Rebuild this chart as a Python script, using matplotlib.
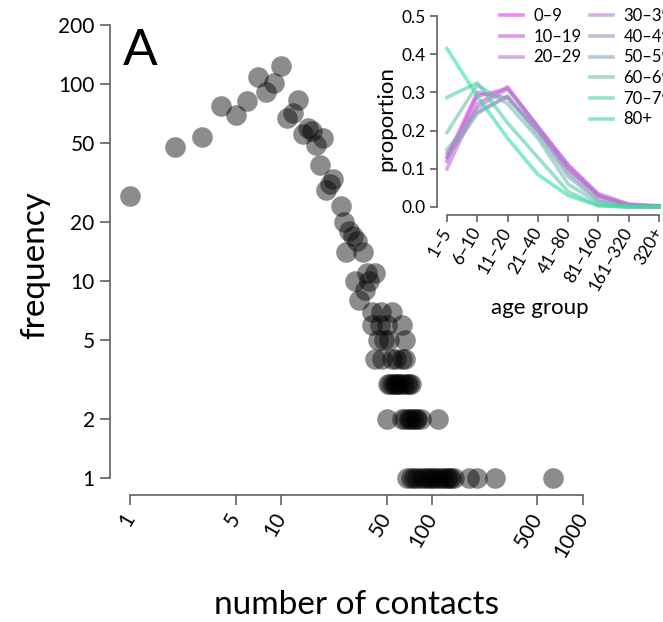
import matplotlib.pyplot as plt
from matplotlib.ticker import NullLocator

plt.rcParams['font.family'] = ['Lato', 'DejaVu Sans']

# main panel: number of contacts vs. how many people reported it
contacts = [1, 2, 3, 4, 5, 6, 7, 8, 9, 10,
            11, 12, 13, 14, 15, 16, 17, 18, 19,
            20, 21, 22, 25, 26, 28, 30, 32,
            27, 35, 42, 31, 37, 38, 33, 36,
            40, 46, 54,
            40, 45, 50, 63,
            44, 48, 52, 66,
            42, 47, 54, 58, 63, 66,
            51, 53, 55, 57, 59, 60, 62, 65, 68, 70, 73,
            50, 63, 66, 70, 72, 75, 78, 80, 85, 110,
            68, 73, 76, 80, 85, 88, 92, 97, 100, 105, 110, 115, 120, 125,
            130, 134, 140, 175, 200, 260, 630]
frequency = [27, 48, 54, 77, 70, 82, 108, 91, 101, 124,
             67, 71, 83, 56, 60, 58, 49, 39, 53,
             29, 31, 33, 24, 20, 18, 17, 16,
             14, 14, 11, 10, 11, 10, 8, 9,
             7, 7, 7,
             6, 6, 6, 6,
             5, 5, 5, 5,
             4, 4, 4, 4, 4, 4,
             3, 3, 3, 3, 3, 3, 3, 3, 3, 3, 3,
             2, 2, 2, 2, 2, 2, 2, 2, 2, 2,
             1, 1, 1, 1, 1, 1, 1, 1, 1, 1, 1, 1, 1, 1,
             1, 1, 1, 1, 1, 1, 1]
x_ticks = [1, 5, 10, 50, 100, 500, 1000]
y_ticks = [1, 2, 5, 10, 20, 50, 100, 200]

# inset: proportion of contacts per bin, by age group
contact_bins = ["1–5", "6–10", "11–20", "21–40", "41–80", "81–160", "161–320", "320+"]
age_groups = ["0–9", "10–19", "20–29", "30–39", "40–49", "50–59", "60–69", "70–79", "80+"]
p_0_9 = [0.13, 0.30, 0.285, 0.20, 0.10, 0.030, 0.005, 0.002]
p_10_19 = [0.12, 0.29, 0.31, 0.21, 0.11, 0.030, 0.005, 0.002]
p_20_29 = [0.10, 0.27, 0.315, 0.21, 0.11, 0.035, 0.008, 0.003]
p_30_39 = [0.14, 0.26, 0.31, 0.21, 0.10, 0.030, 0.005, 0.002]
p_40_49 = [0.13, 0.245, 0.29, 0.20, 0.09, 0.020, 0.003, 0.001]
p_50_59 = [0.15, 0.25, 0.29, 0.19, 0.08, 0.015, 0.002, 0.001]
p_60_69 = [0.195, 0.32, 0.27, 0.18, 0.06, 0.010, 0.0, 0.0]
p_70_79 = [0.287, 0.325, 0.22, 0.13, 0.04, 0.004, 0.0, 0.0]
p_80 = [0.415, 0.29, 0.18, 0.085, 0.03, 0.003, 0.0, 0.0]
proportions = [p_0_9, p_10_19, p_20_29, p_30_39, p_40_49, p_50_59, p_60_69, p_70_79, p_80]
colors = ['#e040e8', '#d050e0', '#c070d8', '#b080d0', '#9890c0',
          '#88a8b8', '#70c0b0', '#50d0a8', '#30e0a0']

W, H = 663, 622
fig = plt.figure(figsize=(W / 100, H / 100), dpi=100)
grey = '#606060'

ax = fig.add_axes([110 / W, 1 - 495 / H, 490 / W, 480 / H])
ax.scatter(contacts, frequency, s=220, c='black', alpha=0.45, linewidths=0)
ax.set_xscale('log')
ax.set_yscale('log')
ax.set_xlim(0.737, 1297)
ax.set_ylim(0.82, 224)
for s in ['top', 'right']:
    ax.spines[s].set_visible(False)
ax.spines['left'].set_bounds(1, 200)
ax.spines['bottom'].set_bounds(1, 1000)
for s in ['left', 'bottom']:
    ax.spines[s].set_color(grey)
    ax.spines[s].set_linewidth(1.2)
ax.set_xticks(x_ticks)
ax.set_xticklabels([str(v) for v in x_ticks])
ax.set_yticks(y_ticks)
ax.set_yticklabels([str(v) for v in y_ticks])
ax.xaxis.set_minor_locator(NullLocator())
ax.yaxis.set_minor_locator(NullLocator())
ax.tick_params(direction='out', length=7, width=1.2, color=grey, labelsize=15, pad=4)
ax.tick_params(axis='x', pad=7)
plt.setp(ax.get_xticklabels(), rotation=60, ha='right', va='center', rotation_mode='anchor')

fig.text(123 / W, 1 - 65 / H, "A", fontsize=37, va='baseline', ha='left')
fig.text(35 / W, 1 - 265 / H, "frequency", fontsize=24, rotation=90, ha='center', va='center')
fig.text(357 / W, 1 - 605 / H, "number of contacts", fontsize=24, ha='center', va='center')

# inset
ins = fig.add_axes([437 / W, 1 - 215 / H, 243 / W, 205 / H])
ins.set_facecolor('none')
lines = []
for props, lab, col in zip(proportions, age_groups, colors):
    ln, = ins.plot(range(len(contact_bins)), props, color=col, alpha=0.6, lw=2.6, label=lab)
    lines.append(ln)
ins.set_xlim(-0.33, 7.69)
ins.set_ylim(-0.021, 0.516)
for s in ['top', 'right']:
    ins.spines[s].set_visible(False)
ins.spines['left'].set_bounds(0, 0.5)
ins.spines['bottom'].set_bounds(0, 7)
for s in ['left', 'bottom']:
    ins.spines[s].set_color(grey)
    ins.spines[s].set_linewidth(1.2)
ins.set_xticks(range(len(contact_bins)))
ins.set_xticklabels(contact_bins)
ins.set_yticks([0, 0.1, 0.2, 0.3, 0.4, 0.5])
ins.set_yticklabels(["0.0", "0.1", "0.2", "0.3", "0.4", "0.5"])
ins.tick_params(direction='out', length=5, width=1.2, color=grey, labelsize=12.5, pad=3)
ins.tick_params(axis='x', pad=5)
plt.setp(ins.get_xticklabels(), rotation=60, ha='right', va='center', rotation_mode='anchor')
fig.text(386 / W, 1 - 119 / H, "proportion", fontsize=16, rotation=90, ha='center', va='center')
fig.text(540 / W, 1 - 308 / H, "age group", fontsize=16, ha='center', va='center')

leg_kw = dict(frameon=False, fontsize=12, borderpad=0, borderaxespad=0,
              handlelength=1.35, handletextpad=0.65, labelspacing=0.28, loc='upper left')
leg1 = fig.legend(lines[:3], age_groups[:3], bbox_to_anchor=(500 / W, 1 - 8 / H), **leg_kw)
leg2 = fig.legend(lines[3:], age_groups[3:], bbox_to_anchor=(590 / W, 1 - 8 / H), **leg_kw)

fig.savefig('out.png', dpi=100)
